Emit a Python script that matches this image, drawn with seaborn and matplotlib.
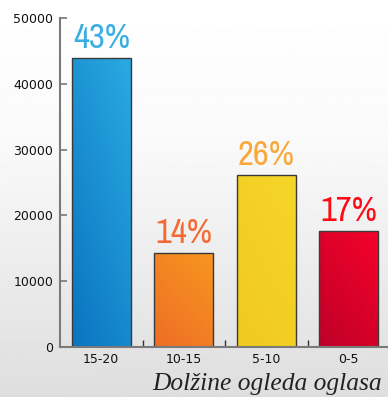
import numpy as np
import pandas as pd
import matplotlib
matplotlib.use("Agg")
import matplotlib.pyplot as plt
import seaborn as sns
from matplotlib.colors import LinearSegmentedColormap
from matplotlib import font_manager

categories = ["15-20", "10-15", "5-10", "0-5"]
values = [43900, 14300, 26100, 17700]
pct_labels = ["43%", "14%", "26%", "17%"]
bar_colors = ["#1b8fd6", "#f27a24", "#f2cf22", "#d60a2a"]
bar_light = ["#2aaae2", "#f7961f", "#f5d628", "#f5022a"]
bar_dark = ["#0a74c0", "#ee6e26", "#f1c920", "#bf0028"]
pct_colors = ["#3aaee2", "#f26a32", "#f9a83a", "#ff0a14"]
xlabel = "Dolžine ogleda oglasa"

sns.set_theme(style="white")
plt.rcParams["font.family"] = ["DejaVu Sans"]

# look for a condensed font
narrow = None
names = sorted({f.name for f in font_manager.fontManager.ttflist})
for key in ["Narrow", "Condensed"]:
    for n in names:
        if key in n:
            narrow = n
            break
    if narrow:
        break
narrow_stretch = "normal"
if narrow is None:
    for f in font_manager.fontManager.ttflist:
        if f.stretch not in ("normal", 500) and "Sans" in f.name:
            narrow = f.name
            narrow_stretch = f.stretch
            break
pct_family = [narrow, "DejaVu Sans"] if narrow else ["DejaVu Sans"]
pct_size = 25 if narrow else 20

fig = plt.figure(figsize=(3.88, 3.97), dpi=100)

# background gradient
bg = fig.add_axes([0, 0, 1, 1], zorder=-10)
h = 400
t = np.linspace(0, 1, h)
lev = np.where(t < 0.35, 1.0 - 0.02 * t / 0.35, 0.98 - (t - 0.35) / 0.65 * 0.11)
img = np.repeat(lev[:, None], 2, axis=1)
bg.imshow(img, cmap="gray", vmin=0, vmax=1, aspect="auto", extent=[0, 1, 0, 1], origin="upper")
bg.axis("off")

ax = fig.add_axes([60 / 388, 50 / 397, 330 / 388, 329 / 397])
ax.patch.set_alpha(0)

df = pd.DataFrame({"cat": categories, "val": values})
sns.barplot(data=df, x="cat", y="val", hue="cat", palette=bar_colors, legend=False,
            width=0.72, edgecolor="#3a3a3a", linewidth=1.0, ax=ax, saturation=1)

# gradient fill on bars
for p, lc, dc in zip(ax.patches, bar_light, bar_dark):
    x0, y0 = p.get_x(), p.get_y()
    w, hh = p.get_width(), p.get_height()
    cmap = LinearSegmentedColormap.from_list("g", [dc, lc])
    gx, gy = np.meshgrid(np.linspace(0, 1, 50), np.linspace(0, 1, 50))
    grad = 0.4 * gx + 0.6 * gy
    im = ax.imshow(grad, cmap=cmap, extent=[x0, x0 + w, y0, y0 + hh], origin="lower",
                   aspect="auto", zorder=p.get_zorder() - 0.05)
    im.set_clip_path(p)
    p.set_facecolor("none")

ax.set_xlim(-0.5, 3.5)
ax.set_ylim(0, 50000)
ax.set_yticks([0, 10000, 20000, 30000, 40000, 50000])
ax.set_yticklabels(["0", "10000", "20000", "30000", "40000", "50000"], fontsize=9, color="#111111")
ax.set_xticks(range(len(categories)))
ax.set_xticklabels(categories, fontsize=9, color="#111111")
ax.tick_params(axis="x", length=0, pad=4)
ax.tick_params(axis="y", direction="in", length=5, width=1.2, color="#777777", pad=5, left=True)
ax.set_xticks([0.5, 1.5, 2.5], minor=True)
ax.tick_params(axis="x", which="minor", direction="in", length=5, width=1.0, color="#333333", bottom=True)
ax.set_xlabel("")
ax.set_ylabel("")
for s in ["top", "right"]:
    ax.spines[s].set_visible(False)
for s in ["left", "bottom"]:
    ax.spines[s].set_color("#7a7a7a")
    ax.spines[s].set_linewidth(1.5)

for i, (v, lab, c) in enumerate(zip(values, pct_labels, pct_colors)):
    ax.text(i, v + 600, lab, ha="center", va="bottom", color=c, fontsize=pct_size,
            family=pct_family, fontstretch=narrow_stretch)

fig.text(152 / 388, 1 - 390 / 397, xlabel, ha="left", va="baseline", fontsize=18.4,
         family=["Liberation Serif", "DejaVu Serif"], style="italic", color="#222222")

fig.savefig("out.png", dpi=100)
